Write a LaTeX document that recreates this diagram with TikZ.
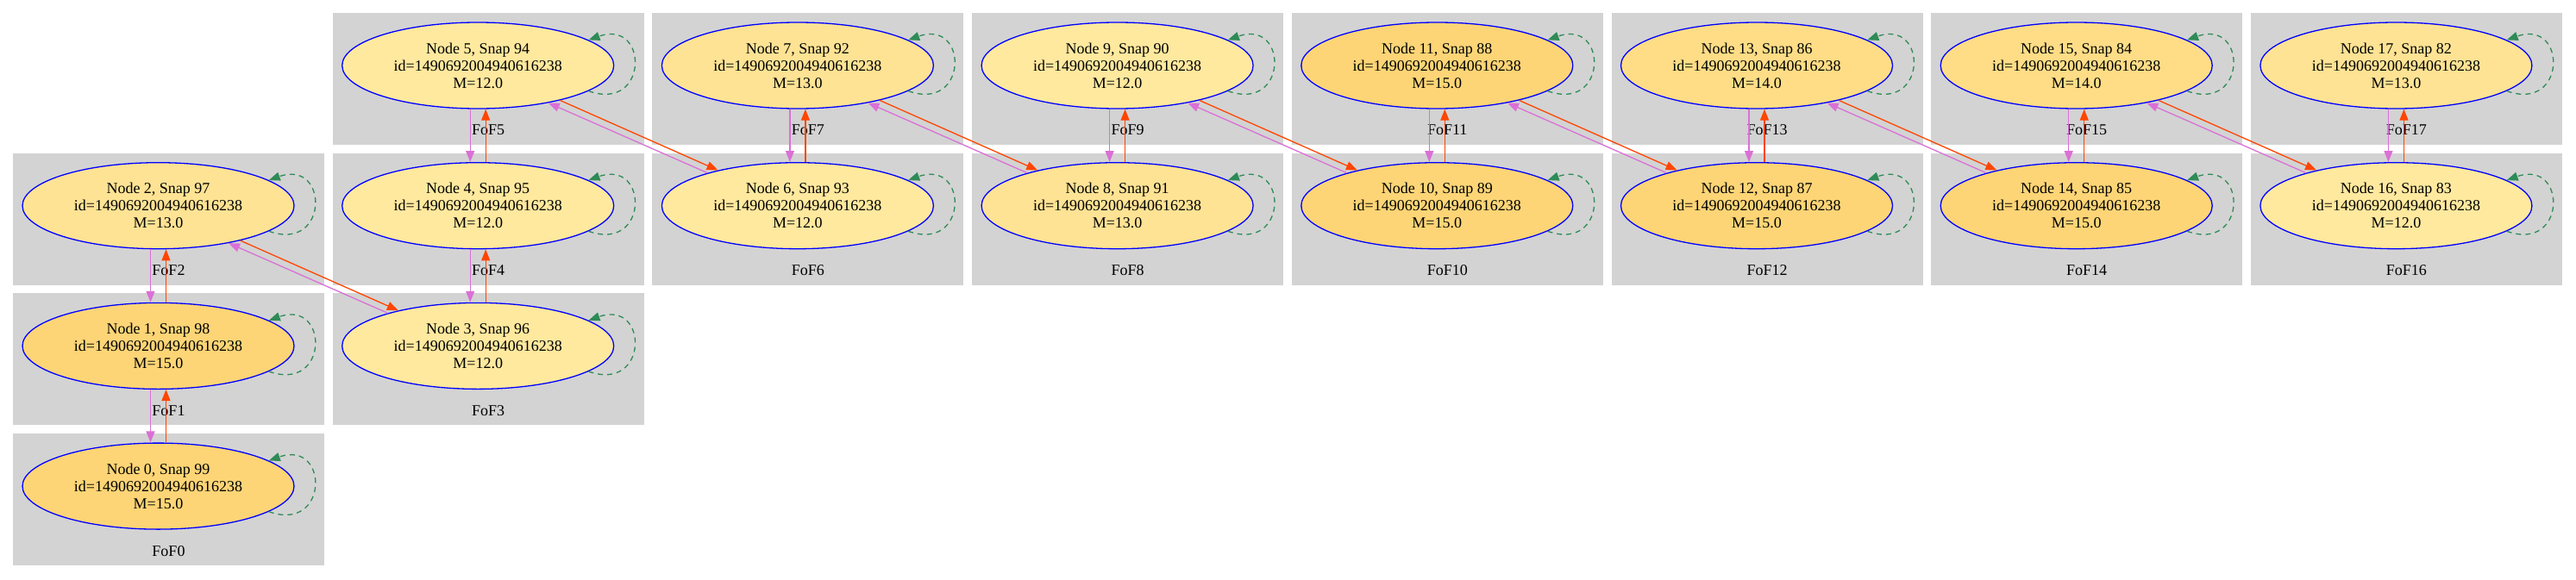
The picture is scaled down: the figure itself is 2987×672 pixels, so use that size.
\documentclass[tikz,border=0pt]{standalone}
\usepackage{fontspec}
\setmainfont{Liberation Serif}
\usetikzlibrary{arrows.meta,shapes.geometric}

\definecolor{fofgray}{HTML}{D3D3D3}
\definecolor{mass12}{HTML}{FFE99E}
\definecolor{mass13}{HTML}{FEE394}
\definecolor{mass14}{HTML}{FEDD86}
\definecolor{mass15}{HTML}{FDD576}
\definecolor{orchidline}{HTML}{DA70D6}
\definecolor{redline}{HTML}{FF4500}
\definecolor{loopgreen}{HTML}{2E8B57}

\tikzset{
    halo/.style={ellipse, draw=blue, line width=1.3pt, minimum width=315pt, minimum height=100pt,
        inner sep=0pt, align=center, font=\fontsize{18}{20}\selectfont},
    fofname/.style={font=\fontsize{18}{20}\selectfont, inner sep=0pt},
    descend/.style={draw=orchidline, line width=1.3pt, -{Triangle[length=13pt,width=10pt]}},
    progen/.style={draw=redline, line width=1.3pt, -{Triangle[length=13pt,width=10pt]}},
    selfloop/.style={draw=loopgreen, line width=1.3pt, dash pattern=on 6pt off 5pt,
        -{Triangle[length=13pt,width=10pt]}}
}

\begin{document}
\begin{tikzpicture}[x=1pt,y=-1pt]
        \useasboundingbox (0,0) rectangle (2987,672);
        % one grey box per FoF, halo inside
        \foreach \k/\c/\r/\m in {0/0/3/15, 1/0/2/15, 2/0/1/13, 3/1/2/12, 4/1/1/12, 5/1/0/12,
                6/2/1/12, 7/2/0/13, 8/3/1/13, 9/3/0/12, 10/4/1/15, 11/4/0/15, 12/5/1/15,
                13/5/0/14, 14/6/1/15, 15/6/0/14, 16/7/1/12, 17/7/0/13}{
            \pgfmathsetmacro\bx{15+370.7*\c}
            \pgfmathsetmacro\by{15+162.7*\r}
            \pgfmathtruncatemacro\snap{99-\k}
            \fill[fofgray] (\bx,\by) rectangle ++(361,153);
            \node[fofname] (f\k) at (\bx+180.5,\by+136) {FoF\k};
            \node[halo, fill=mass\m] (n\k) at (\bx+168.5,\by+61)
                {Node \k, Snap \snap\\id=1490692004940616238\\M=\m.0};
            \draw[selfloop] (n\k.-13) .. controls +(70,25) and +(70,-25) .. (n\k.13);
        }
        % same column
        \foreach \a/\b in {0/1, 1/2, 3/4, 4/5, 6/7, 8/9, 10/11, 12/13, 14/15, 16/17}{
            \draw[descend] ([xshift=-9pt]n\b.south) -- ([xshift=-9pt]n\a.north);
            \draw[progen] ([xshift=9pt]n\a.north) -- ([xshift=9pt]n\b.south);
        }
        % next column
        \foreach \a/\b in {2/3, 5/6, 7/8, 9/10, 11/12, 13/14, 15/16}{
            \draw[progen] (n\a.-23) -- (n\b.156);
            \draw[descend] (n\b.160) -- (n\a.-28);
        }
\end{tikzpicture}
\end{document}
